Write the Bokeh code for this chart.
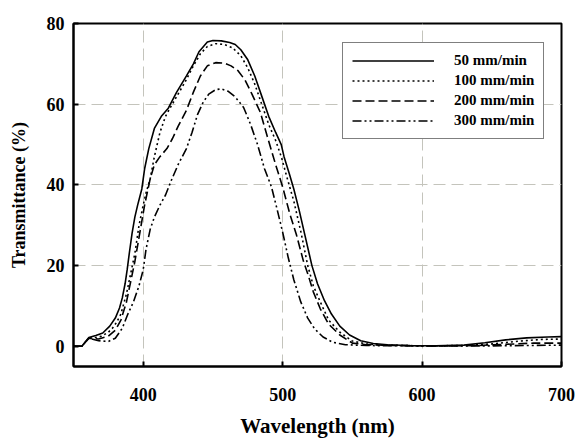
from bokeh.plotting import figure
from bokeh.models import Range1d, Legend, LegendItem, FixedTicker
from bokeh.embed import file_html
from bokeh.resources import INLINE

# ---- data ----
wl_50 = [350, 356, 361, 366, 371, 376, 380, 383, 385, 387, 388.5, 390, 392, 394, 396, 399, 401, 404, 408,
         413, 418, 424, 431, 436, 440, 446, 450, 456, 462, 466, 470, 475, 480, 485, 490, 495, 499,
         501, 505, 508, 512, 516, 521, 525, 530, 535, 541, 548, 556, 565, 575, 590, 610, 630, 645,
         660, 675, 690, 700]
t_50 = [0, 0, 2.2, 2.7, 3.3, 5.0, 7.0, 9.5, 12, 15.5, 19, 23, 28, 32, 35, 39, 44, 49, 54,
        57, 59, 63, 67, 70, 73, 75.4, 75.8, 75.7, 75.3, 74.8, 73.5, 71, 67, 62, 57, 53, 50,
        47, 42.5, 39, 33.5, 27.5, 20, 15.5, 11.3, 8, 5, 2.8, 1.4, 0.7, 0.4, 0.2, 0.1, 0.3, 0.9,
        1.6, 2.1, 2.3, 2.4]

wl_100 = [350, 356, 361, 366, 370, 375, 378, 381, 384, 388, 391, 394, 397, 400, 402, 405, 408, 412,
          416, 420, 425, 430, 436, 441, 446, 452, 458, 464, 470, 475, 480, 485, 490, 495, 499,
          503, 508, 513, 518, 522, 527, 533, 541, 550, 560, 575, 600, 630, 650, 670, 685, 700]
t_100 = [0, 0, 2.0, 2.2, 2.5, 3.5, 4.5, 6.0, 8, 13, 18, 23, 30, 35, 38, 41.5, 47, 53,
         57, 59.5, 62.5, 65.5, 69.5, 72.5, 74.3, 75, 74.8, 74, 72, 69, 65, 60, 55, 51, 47,
         42, 36, 28.5, 20, 15, 11, 6.5, 3.5, 1.3, 0.6, 0.3, 0.1, 0.2, 0.6, 1.3, 1.7, 1.8]

wl_200 = [350, 356, 361, 368, 375, 380, 384, 388, 391, 394, 398, 401, 405, 408, 412, 417, 421,
          425, 431, 436, 441, 446, 452, 458, 463, 468, 473, 478, 484, 489, 495, 500, 505, 510,
          515, 518, 522, 527, 533, 541, 550, 560, 580, 610, 640, 660, 680, 700]
t_200 = [0, 0, 2.0, 1.8, 2.5, 4, 6.5, 11, 16, 21, 29, 35, 41.5, 45, 47, 49, 51.5,
         54.5, 58.5, 63, 67, 69.5, 70.3, 70.2, 69.5, 68.3, 66, 62.5, 58, 52, 45, 39.5, 33, 27.5,
         21, 18, 13.5, 9.3, 5.5, 2.8, 0.8, 0.4, 0.2, 0.1, 0.2, 0.5, 0.8, 0.8]

wl_300 = [350, 356, 361, 368, 375, 380, 385, 389, 393, 397, 400, 402, 405, 408, 412, 416, 420,
          425, 431, 435, 439, 443, 447, 452, 456, 461, 466, 472, 477, 482, 487, 492, 496, 500,
          504, 508, 513, 518, 523, 529, 536, 545, 560, 600, 650, 700]
t_300 = [0, 0, 2.0, 1.4, 1.2, 2, 4.5, 8, 11, 15, 19, 24, 29, 32, 35, 37.5, 41,
         45, 49, 53, 57.5, 60.5, 62.5, 63.6, 63.8, 63.2, 61.8, 59.2, 55, 50, 44, 39.5, 34, 28.3,
         22, 16.5, 11, 7, 4.3, 2.3, 1, 0.4, 0.2, 0.1, 0.1, 0.3]

labels = ["50 mm/min", "100 mm/min", "200 mm/min", "300 mm/min"]
x_ticks = [400, 500, 600, 700]
y_ticks = [0, 20, 40, 60, 80]

FONT = "Liberation Serif"

p = figure(width=577, height=440, output_backend="svg", toolbar_location=None,
           x_range=Range1d(350, 700), y_range=Range1d(-5, 80),
           min_border_left=73, min_border_right=16, min_border_top=23, min_border_bottom=67)

p.background_fill_color = "white"
p.border_fill_color = "white"
p.outline_line_color = "black"
p.outline_line_width = 2

# grid
for g, ticks in ((p.xgrid, [400, 500, 600]), (p.ygrid, [20, 40, 60])):
    g.ticker = FixedTicker(ticks=ticks)
    g.grid_line_color = "#c4c4bc"
    g.grid_line_dash = "12 6"
    g.grid_line_width = 1

# axes
p.xaxis.ticker = FixedTicker(ticks=x_ticks)
p.yaxis.ticker = FixedTicker(ticks=y_ticks)
for ax in (p.xaxis[0], p.yaxis[0]):
    ax.axis_line_color = "black"
    ax.axis_line_width = 2
    ax.major_tick_in = 5
    ax.major_tick_out = 0
    ax.major_tick_line_width = 2
    ax.minor_tick_line_color = None
    ax.major_label_text_font = FONT
    ax.major_label_text_font_style = "bold"
    ax.major_label_text_font_size = "18px"
    ax.major_label_text_color = "black"
    ax.axis_label_text_font = FONT
    ax.axis_label_text_font_style = "bold"
    ax.axis_label_text_color = "black"

p.xaxis.axis_label = "Wavelength (nm)"
p.yaxis.axis_label = "Transmittance (%)"
p.xaxis.axis_label_text_font_size = "21px"
p.yaxis.axis_label_text_font_size = "18px"
p.xaxis.major_label_standoff = 21
p.xaxis.axis_label_standoff = 10
p.yaxis.major_label_standoff = 9
p.yaxis.axis_label_standoff = 15

r1 = p.line(wl_50, t_50, line_color="black", line_width=1.6)
r2 = p.line(wl_100, t_100, line_color="black", line_width=1.6, line_dash="2 3")
r3 = p.line(wl_200, t_200, line_color="black", line_width=1.6, line_dash="9 4")
r4 = p.line(wl_300, t_300, line_color="black", line_width=1.6, line_dash="9 3 2 3 2 3")

legend = Legend(items=[LegendItem(label=labels[0], renderers=[r1]),
                       LegendItem(label=labels[1], renderers=[r2]),
                       LegendItem(label=labels[2], renderers=[r3]),
                       LegendItem(label=labels[3], renderers=[r4])],
                location=(269, 227))
legend.border_line_color = "black"
legend.border_line_width = 1.5
legend.background_fill_color = "white"
legend.background_fill_alpha = 1
legend.label_text_font = FONT
legend.label_text_font_style = "bold"
legend.label_text_font_size = "15px"
legend.label_text_color = "black"
legend.glyph_width = 82
legend.glyph_height = 17
legend.label_height = 17
legend.label_standoff = 20
legend.spacing = 3
legend.padding = 9
legend.margin = 0
p.add_layout(legend, "center")

open("out.html", "w").write(file_html(p, INLINE))
